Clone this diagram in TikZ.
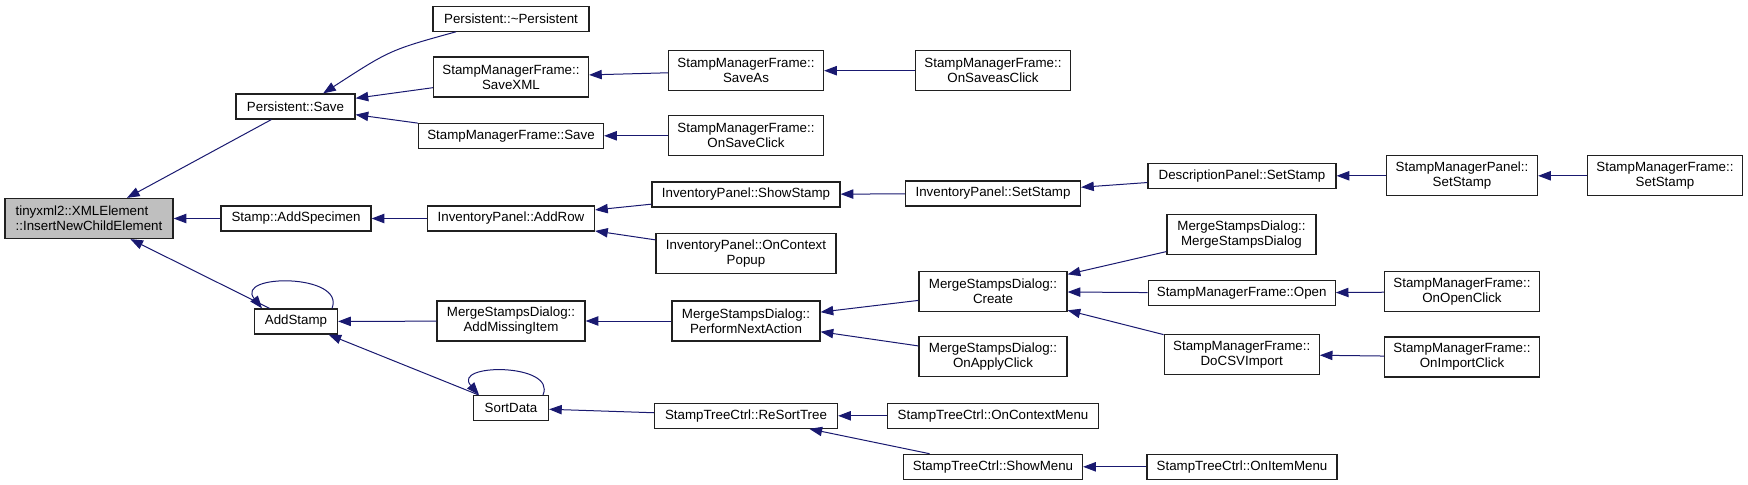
\documentclass[tikz,border=0pt]{standalone}
\usepackage{fontspec}
\setmainfont{Liberation Sans}
\usepackage{tikz}
\usetikzlibrary{calc,arrows.meta}
\definecolor{edgeblue}{HTML}{191970}
\definecolor{rootgray}{HTML}{BFBFBF}
\definecolor{boxline}{HTML}{202020}

\begin{document}
\begin{tikzpicture}[x=0.75pt,y=-0.75pt,
  fn/.style={draw=boxline,line width=0.9pt,fill=white,inner sep=0pt,align=center,
    font=\fontsize{10}{11.25}\selectfont,minimum height=18.75pt},
  fntwo/.style={fn,minimum height=30pt},
  boxw/.style={minimum width=#1*0.75pt},
  call/.style={draw=edgeblue,line width=0.75pt,-{Triangle[length=9.5pt,width=7pt]}}]
  \useasboundingbox (0,0) rectangle (1748,485);

  \node[fntwo,boxw=168,fill=rootgray,align=left] (root) at (89,218.5)
    {tinyxml2::XMLElement\\::InsertNewChildElement};

  \node[fn,boxw=119] (psave) at (295.5,106.5) {Persistent::Save};
  \node[fn,boxw=150] (addspec) at (296,218.5) {Stamp::AddSpecimen};
  \node[fn,boxw=83] (addstamp) at (296,321.5) {AddStamp};

  \node[fn,boxw=156] (dtor) at (511,18.7) {Persistent::\textasciitilde Persistent};
  \node[fntwo,boxw=155] (savexml) at (511,77) {StampManagerFrame::\\SaveXML};
  \node[fn,boxw=185] (smfsave) at (511,135.8) {StampManagerFrame::Save};
  \node[fn,boxw=167] (addrow) at (511,218.5) {InventoryPanel::AddRow};
  \node[fntwo,boxw=148] (addmissing) at (511,321) {MergeStampsDialog::\\AddMissingItem};
  \node[fn,boxw=75] (sortdata) at (511,408) {SortData};

  \node[fntwo,boxw=155] (saveas) at (746,70.7) {StampManagerFrame::\\SaveAs};
  \node[fntwo,boxw=155] (onsaveclick) at (746,135.8) {StampManagerFrame::\\OnSaveClick};
  \node[fn,boxw=188] (showstamp) at (746,194.5) {InventoryPanel::ShowStamp};
  \node[fntwo,boxw=180] (ctxpopup) at (746,253.3) {InventoryPanel::OnContext\\Popup};
  \node[fntwo,boxw=148] (perform) at (746,321) {MergeStampsDialog::\\PerformNextAction};
  \node[fn,boxw=183] (resort) at (746,415.8) {StampTreeCtrl::ReSortTree};

  \node[fntwo,boxw=155] (onsaveas) at (993,70.7) {StampManagerFrame::\\OnSaveasClick};
  \node[fn,boxw=175] (invset) at (993,193.5) {InventoryPanel::SetStamp};
  \node[fntwo,boxw=148] (create) at (993,291.5) {MergeStampsDialog::\\Create};
  \node[fntwo,boxw=148] (onapply) at (993,356.7) {MergeStampsDialog::\\OnApplyClick};
  \node[fn,boxw=211] (ctxmenu) at (993,415.8) {StampTreeCtrl::OnContextMenu};
  \node[fn,boxw=179] (showmenu) at (993,466.8) {StampTreeCtrl::ShowMenu};

  \node[fn,boxw=188] (descset) at (1242,175.8) {DescriptionPanel::SetStamp};
  \node[fntwo,boxw=149] (msdctor) at (1241.5,234.3) {MergeStampsDialog::\\MergeStampsDialog};
  \node[fn,boxw=187] (open) at (1241.7,293.2) {StampManagerFrame::Open};
  \node[fntwo,boxw=155] (docsv) at (1241.7,354.3) {StampManagerFrame::\\DoCSVImport};
  \node[fn,boxw=190] (itemmenu) at (1242,466.8) {StampTreeCtrl::OnItemMenu};

  \node[fntwo,boxw=151] (panelset) at (1462,175.8) {StampManagerPanel::\\SetStamp};
  \node[fntwo,boxw=155] (onopen) at (1462,291.7) {StampManagerFrame::\\OnOpenClick};
  \node[fntwo,boxw=155] (onimport) at (1462,357) {StampManagerFrame::\\OnImportClick};

  \node[fntwo,boxw=155] (frameset) at (1665,175.8) {StampManagerFrame::\\SetStamp};

  \draw[call] (psave) -- (root);
  \draw[call] (addspec) -- (root);
  \draw[call] (addstamp) -- (root);

  \draw[call] ($(dtor.south west)!0.15!(dtor.south east)$) .. controls (390,50) ..
    ($(psave.north west)!0.73!(psave.north east)$);
  \draw[call] (savexml) -- (psave);
  \draw[call] (smfsave) -- (psave);
  \draw[call] (addrow) -- (addspec);
  \draw[call] (addmissing) -- (addstamp);
  \draw[call] (sortdata) -- (addstamp);
  \draw[call] ($(addstamp.north)+(36,0)$) .. controls ($(addstamp.north)+(50,-35)$)
    and ($(addstamp.north)+(-62,-35)$) .. ($(addstamp.north)+(-34,0)$);
  \draw[call] ($(sortdata.north)+(32,0)$) .. controls ($(sortdata.north)+(46,-32)$)
    and ($(sortdata.north)+(-60,-32)$) .. ($(sortdata.north)+(-32,0)$);

  \draw[call] (saveas) -- (savexml);
  \draw[call] (onsaveclick) -- (smfsave);
  \draw[call] (showstamp) -- (addrow);
  \draw[call] (ctxpopup) -- (addrow);
  \draw[call] (perform) -- (addmissing);
  \draw[call] (resort) -- (sortdata);

  \draw[call] (onsaveas) -- (saveas);
  \draw[call] (invset) -- (showstamp);
  \draw[call] (create) -- (perform);
  \draw[call] (onapply) -- (perform);
  \draw[call] (ctxmenu) -- (resort);
  \draw[call] (showmenu) -- (resort);

  \draw[call] (descset) -- (invset);
  \draw[call] (msdctor) -- (create);
  \draw[call] (open) -- (create);
  \draw[call] (docsv) -- (create);
  \draw[call] (itemmenu) -- (showmenu);

  \draw[call] (panelset) -- (descset);
  \draw[call] (onopen) -- (open);
  \draw[call] (onimport) -- (docsv);
  \draw[call] (frameset) -- (panelset);
\end{tikzpicture}
\end{document}
